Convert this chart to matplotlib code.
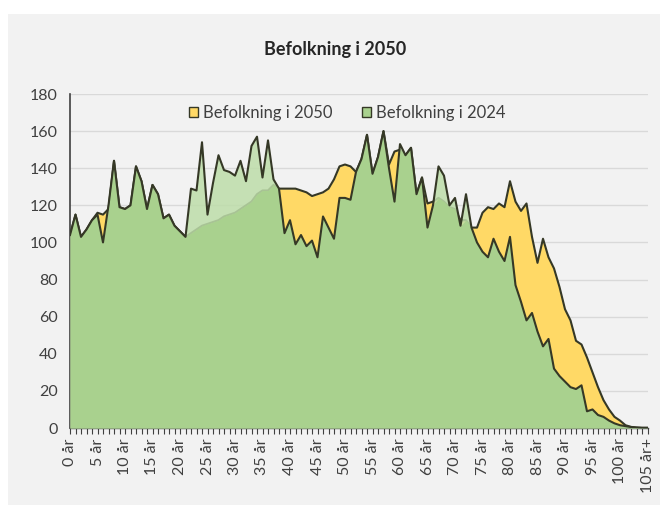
import numpy as np
import matplotlib
matplotlib.use("Agg")
import matplotlib.pyplot as plt
from matplotlib.patches import Patch, Rectangle

plt.rcParams['font.family'] = ['Lato', 'DejaVu Sans']

# data (ages 0 .. 105+)
ages = list(range(106))
pop_2024 = [
    104, 115, 103, 107, 112, 115, 100, 120, 144, 119,
    118, 120, 141, 133, 118, 131, 126, 113, 115, 109,
    106, 103, 129, 128, 154, 115, 132, 147, 139, 138,
    136, 144, 133, 152, 157, 135, 155, 134, 129, 105,
    112, 99, 104, 98, 101, 92, 114, 108, 102, 124,
    124, 123, 138, 145, 158, 137, 146, 160, 140, 122,
    153, 147, 151, 126, 135, 108, 120, 141, 136, 120,
    124, 109, 126, 108, 100, 95, 92, 102, 95, 90,
    103, 77, 68, 58, 62, 52, 44, 48, 32, 28,
    25, 22, 21, 23, 9, 10, 7, 6, 4, 2.5,
    1.5, 1, 0.5, 0.2, 0.1, 0.1]
pop_2050 = [
    104, 115, 103, 107, 112, 116, 115, 118, 144, 119,
    118, 120, 141, 133, 118, 131, 126, 113, 115, 109,
    106, 103, 105, 107, 109, 110, 111, 112, 114, 115,
    116, 118, 120, 122, 126, 128, 128, 131, 129, 129,
    129, 129, 128, 127, 125, 126, 127, 129, 134, 141,
    142, 141, 138, 145, 158, 137, 146, 160, 142, 149,
    150, 147, 151, 126, 135, 121, 122, 124, 122, 119,
    118, 112, 112, 108, 108, 116, 119, 118, 121, 119,
    133, 122, 117, 121, 103, 89, 102, 92, 86, 76,
    64, 58, 47, 45, 38, 30, 22, 15, 10, 6,
    4, 1.5, 0.6, 0.3, 0.1, 0.1]
label_ages = list(range(0, 106, 5))
age_labels = [f"{a} år" for a in range(0, 105, 5)] + ["105 år+"]
series_names = ["Befolkning i 2050", "Befolkning i 2024"]

yellow = "#FFD966"
green = "#A9D18E"
light_green = "#BDDDA9"
edge = "#353826"

x = np.array(ages)
y24 = np.array(pop_2024, dtype=float)
y50 = np.array(pop_2050, dtype=float)

fig = plt.figure(figsize=(6.67, 5.15), dpi=100, facecolor="white")
fig.patches.append(Rectangle((8 / 667, 1 - 505 / 515), 652 / 667, 491 / 515,
                             transform=fig.transFigure, facecolor="#F2F2F2",
                             edgecolor="none", zorder=-10))
ax = fig.add_axes([70 / 667, 1 - 428 / 515, 577.5 / 667, 334 / 515])
ax.set_facecolor("none")
ax.set_zorder(1)

# 2050 area first, then 2024 on top; the overlap is drawn in the darker green
ax.fill_between(x, 0, y50, color=yellow, lw=0, zorder=1)
ax.plot(x, y50, color=edge, lw=1.5, zorder=2)
ax.fill_between(x, 0, y24, color=light_green, alpha=0.85, lw=0, zorder=3)
ax.fill_between(x, 0, np.minimum(y24, y50), color=green, lw=0, zorder=4)
ax.plot(x, y24, color=edge, lw=1.5, zorder=5)

ax.set_xlim(0, 105)
ax.set_ylim(0, 180)
ax.set_yticks(range(0, 181, 20))
ax.yaxis.grid(True, color="#D9D9D9", lw=1)
ax.set_axisbelow(True)
ax.tick_params(axis="y", length=0, labelsize=11.5, labelcolor="#404040", pad=9)

ax.set_xticks(ages, minor=True)
ax.set_xticks(label_ages)
ax.set_xticklabels(age_labels, rotation=90, fontsize=11.5, color="#404040")
ax.tick_params(axis="x", which="both", length=4, width=0.8, color="#404040", direction="out")

for s in ["top", "right"]:
    ax.spines[s].set_visible(False)
ax.spines["left"].set_color("#404040")
ax.spines["left"].set_linewidth(1.2)
ax.spines["bottom"].set_color("#404040")
ax.spines["bottom"].set_linewidth(1.0)

handles = [Patch(facecolor=yellow, edgecolor=edge, lw=1),
           Patch(facecolor=green, edgecolor=edge, lw=1)]
leg = ax.legend(handles, series_names, ncol=2, frameon=False, loc="center",
                bbox_to_anchor=(0.48, 0.943), fontsize=12, handlelength=0.55,
                handleheight=0.55, handletextpad=0.3, columnspacing=1.8,
                labelcolor="#404040")
leg.set_zorder(10)

fig.text(0.502, 1 - 50 / 515, "Befolkning i 2050", ha="center", va="center",
         fontsize=13, fontweight="bold", color="#262626")

fig.savefig("out.png", dpi=100, facecolor="white")
